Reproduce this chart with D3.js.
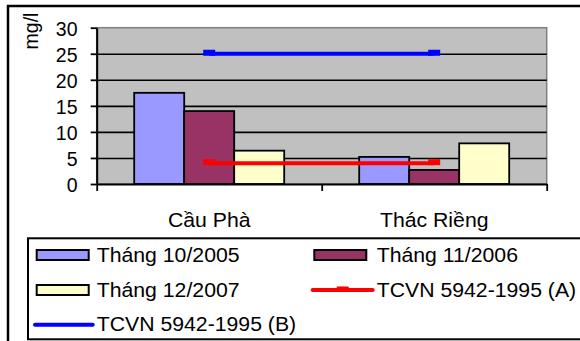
<!DOCTYPE html>
<html>
<head>
<meta charset="utf-8">
<script src="https://cdn.jsdelivr.net/npm/d3@7"></script>
<style>
  html, body { margin: 0; padding: 0; background: #fff; }
  svg { display: block; }
  text { font-family: "Liberation Sans", Arial, sans-serif; fill: #000; }
</style>
</head>
<body>
<svg id="chart" width="580" height="341"></svg>
<script>
// Monitoring sites and sampling rounds
const categories = ["Cầu Phà", "Thác Riềng"];
const seriesNames = ["Tháng 10/2005", "Tháng 11/2006", "Tháng 12/2007"];
const oct2005 = [17.5, 5.2];
const nov2006 = [14.0, 2.7];
const dec2007 = [6.4, 7.8];
// Standard limits TCVN 5942-1995
const limitNames = ["TCVN 5942-1995 (A)", "TCVN 5942-1995 (B)"];
const limitA = [4, 4];
const limitB = [25, 25];
const yTicks = [0, 5, 10, 15, 20, 25, 30];
const yLabel = "mg/l";

const barColors = ["#9999FF", "#993366", "#FFFFCC"];
const lineColors = ["#FF0000", "#0000FF"];
const barSeries = [oct2005, nov2006, dec2007];

const svg = d3.select("#chart");
const FONT = 19.5, SX = 1.09;

const plot = { left: 96.7, right: 546.7, top: 27.7, bottom: 184 };

const x = d3.scaleBand().domain(categories).range([plot.left, plot.right]).padding(0);
const xs = d3.scaleBand().domain(seriesNames).range([0, x.bandwidth()])
  .paddingInner(0).paddingOuter(0.75);
const y = d3.scaleLinear().domain([0, 30]).range([plot.bottom, plot.top]);

// horizontally stretched text helper
function label(parent, tx, ty, str, anchor, sx) {
  const g = parent.append("g").attr("transform", `translate(${tx},${ty}) scale(${sx || SX},1)`);
  g.append("text").attr("text-anchor", anchor || "start")
    .style("font-size", FONT + "px").text(str);
  return g;
}

// outer frame
svg.append("rect").attr("x", 8).attr("y", 6).attr("width", 600).attr("height", 400)
  .attr("fill", "#fff").attr("stroke", "#000").attr("stroke-width", 2.5);

// plot background
svg.append("rect").attr("x", plot.left).attr("y", plot.top)
  .attr("width", plot.right - plot.left).attr("height", plot.bottom - plot.top)
  .attr("fill", "#C0C0C0").attr("stroke", "#808080").attr("stroke-width", 1.5);

// gridlines
svg.append("g").attr("transform", `translate(${plot.left},0)`)
  .call(d3.axisLeft(y).tickValues(yTicks.filter(t => t > 0 && t < 30))
    .tickSize(-(plot.right - plot.left)).tickFormat(""))
  .call(g => g.select(".domain").remove())
  .call(g => g.selectAll("line").attr("stroke", "#000").attr("stroke-width", 1.6));

// bars
const barG = svg.append("g");
categories.forEach((c, ci) => {
  barSeries.forEach((s, si) => {
    barG.append("rect")
      .attr("x", x(c) + xs(seriesNames[si]))
      .attr("y", y(s[ci]))
      .attr("width", xs.bandwidth())
      .attr("height", y(0) - y(s[ci]))
      .attr("fill", barColors[si]).attr("stroke", "#000").attr("stroke-width", 1.8);
  });
});

// y axis
const yAxis = svg.append("g").attr("transform", `translate(${plot.left},0)`)
  .call(d3.axisLeft(y).tickValues(yTicks).tickSize(6).tickSizeOuter(0));
yAxis.select(".domain").attr("stroke", "#000").attr("stroke-width", 2);
yAxis.selectAll(".tick line").attr("stroke", "#000").attr("stroke-width", 1.8);
yAxis.selectAll(".tick text").remove();
yTicks.forEach(t => label(svg, 77.5, y(t) + 8, String(t), "end", 1.0));

// x axis (category boundary ticks)
const xb = d3.scalePoint().domain(d3.range(categories.length + 1)).range([plot.left, plot.right]);
const xAxis = svg.append("g").attr("transform", `translate(0,${plot.bottom})`)
  .call(d3.axisBottom(xb).tickSize(7).tickSizeOuter(0).tickFormat(""));
xAxis.select(".domain").attr("stroke", "#000").attr("stroke-width", 2);
xAxis.selectAll(".tick line").attr("stroke", "#000").attr("stroke-width", 1.8);
categories.forEach(c => label(svg, x(c) + x.bandwidth() / 2, 226.7, c, "middle"));

// y-axis title
svg.append("g").attr("transform", "translate(37.5,31) rotate(-90) scale(1,1.06)")
  .append("text").attr("text-anchor", "middle").style("font-size", FONT + "px").text(yLabel);

// limit lines
const line = d3.line().x((d, i) => x(categories[i]) + x.bandwidth() / 2).y(d => y(d));
[limitA, limitB].forEach((s, li) => {
  svg.append("path").datum(s).attr("d", line).attr("fill", "none")
    .attr("stroke", lineColors[li]).attr("stroke-width", 4);
  s.forEach((v, i) => {
    svg.append("rect")
      .attr("x", x(categories[i]) + x.bandwidth() / 2 - 6)
      .attr("y", y(v) - 4).attr("width", 12).attr("height", 6)
      .attr("fill", lineColors[li]);
  });
});

// legend
svg.append("rect").attr("x", 28).attr("y", 238.3).attr("width", 600).attr("height", 101)
  .attr("fill", "#fff").attr("stroke", "#000").attr("stroke-width", 2);

const rowY = [255, 290, 324.8];
const colSw = [36.7, 314.3];
const colTx = [96.7, 376.7];
const legendItems = [
  { name: seriesNames[0], type: "bar", color: barColors[0] },
  { name: seriesNames[1], type: "bar", color: barColors[1] },
  { name: seriesNames[2], type: "bar", color: barColors[2] },
  { name: limitNames[0], type: "line", color: lineColors[0], marker: true },
  { name: limitNames[1], type: "line", color: lineColors[1], marker: false }
];
legendItems.forEach((it, i) => {
  const r = Math.floor(i / 2), c = i % 2;
  const cy = rowY[r];
  if (it.type === "bar") {
    svg.append("rect").attr("x", colSw[c]).attr("y", cy - 5).attr("width", 52).attr("height", 10)
      .attr("fill", it.color).attr("stroke", "#000").attr("stroke-width", 2);
  } else {
    const x0 = c === 0 ? 35 : 312.7, x1 = c === 0 ? 92.7 : 372.7;
    svg.append("line").attr("x1", x0).attr("x2", x1).attr("y1", cy).attr("y2", cy)
      .attr("stroke", it.color).attr("stroke-width", 4).attr("stroke-linecap", "round");
    if (it.marker) {
      svg.append("rect").attr("x", (x0 + x1) / 2 - 6).attr("y", cy - 3.5)
        .attr("width", 12).attr("height", 5).attr("fill", it.color);
    }
  }
  label(svg, colTx[c], cy + 6.5, it.name, "start");
});
</script>
</body>
</html>
